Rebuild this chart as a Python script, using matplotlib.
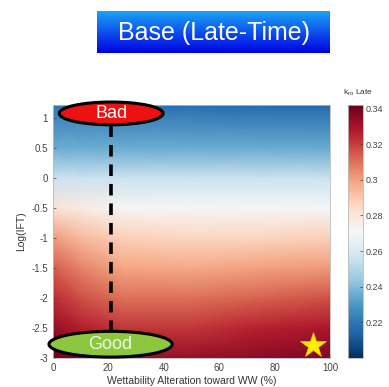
import numpy as np
import matplotlib.pyplot as plt
from matplotlib.patches import Ellipse

plt.rcParams['font.family'] = ['Liberation Sans', 'DejaVu Sans']

# k_ro (late time) over wettability alteration and log(IFT)
w_pct = [0, 10, 25, 50, 75, 100]
log_ift = [1.22, 0.5, 0, -0.5, -1, -1.5, -2, -2.5, -3]
kro_late = [
    [0.219, 0.219, 0.218, 0.217, 0.216, 0.215],
    [0.236, 0.236, 0.236, 0.236, 0.236, 0.235],
    [0.256, 0.256, 0.256, 0.256, 0.256, 0.256],
    [0.281, 0.277, 0.272, 0.270, 0.270, 0.270],
    [0.301, 0.294, 0.288, 0.286, 0.287, 0.288],
    [0.314, 0.306, 0.299, 0.298, 0.300, 0.302],
    [0.324, 0.317, 0.310, 0.310, 0.313, 0.316],
    [0.333, 0.327, 0.322, 0.322, 0.326, 0.329],
    [0.341, 0.337, 0.333, 0.333, 0.335, 0.337],
]
vmin, vmax = 0.2, 0.342
cb_ticks = [0.22, 0.24, 0.26, 0.28, 0.3, 0.32, 0.34]

path_x = 21
bad_pt = (21, 1.08)
good_pt = (20.8, -2.77)
best_pt = (94, -2.78)

fig = plt.figure(figsize=(3.89, 3.87), dpi=100)

# title banner with vertical blue gradient
bax = fig.add_axes([97/389, 1 - 53/387, 233/389, 42/387])
grad = np.linspace(0, 1, 64).reshape(-1, 1)
top = np.array([0.10, 0.64, 0.96])
bot = np.array([0.0, 0.0, 0.90])
rgb = top + (bot - top) * grad[..., None]
bax.imshow(rgb, aspect='auto', extent=[0, 1, 0, 1])
bax.text(0.5, 0.48, 'Base (Late-Time)', color='white', fontsize=18,
         ha='center', va='center')
bax.axis('off')

ax = fig.add_axes([53/389, 29/387, 277/389, 253/387])
X, Y = np.meshgrid(w_pct, log_ift)
mesh = ax.pcolormesh(X, Y, np.array(kro_late), cmap='RdBu_r',
                     vmin=vmin, vmax=vmax, shading='gouraud')
ax.set_xlim(0, 100)
ax.set_ylim(-3, 1.22)
ax.set_xticks([0, 20, 40, 60, 80, 100])
ax.set_yticks([-3, -2.5, -2, -1.5, -1, -0.5, 0, 0.5, 1])
ax.set_yticklabels(['-3', '-2.5', '-2', '-1.5', '-1', '-0.5', '0', '0.5', '1'])
ax.tick_params(direction='in', length=2, width=0.5, labelsize=7,
               colors='#444444', labelcolor='#444444')
for s in ax.spines.values():
    s.set_color('#bbbbbb')
    s.set_linewidth(0.6)
ax.set_xlabel('Wettability Alteration toward WW (%)', fontsize=7.5,
              color='#333333', labelpad=2)
ax.set_ylabel('Log(IFT)', fontsize=7.5, color='#333333', labelpad=4)

# path from bad to good
ax.plot([path_x, path_x], [good_pt[1] + 0.2, bad_pt[1] - 0.18], color='black',
        lw=2.6, dashes=(3.2, 2.2), zorder=3)

bad = Ellipse(bad_pt, 37.5, 0.38, facecolor='#ee1111', edgecolor='black',
              lw=2.2, clip_on=False, zorder=4)
ax.add_patch(bad)
ax.text(bad_pt[0], bad_pt[1], 'Bad', color='white', fontsize=13,
        ha='center', va='center', zorder=5)

good = Ellipse(good_pt, 44.5, 0.43, facecolor='#8dc63f', edgecolor='black',
               lw=2.2, clip_on=False, zorder=4)
ax.add_patch(good)
ax.text(good_pt[0], good_pt[1], 'Good', color='#eef7e6', fontsize=13,
        ha='center', va='center', zorder=5)

ax.plot(*best_pt, marker='*', ms=19, color='#ffee00', mec='#e8c000',
        mew=0.5, clip_on=False, zorder=5)

# colorbar
cax = fig.add_axes([348/389, 29/387, 15/389, 253/387])
cb = fig.colorbar(mesh, cax=cax, ticks=cb_ticks)
cb.ax.set_yticklabels(['0.22', '0.24', '0.26', '0.28', '0.3', '0.32', '0.34'])
cb.ax.tick_params(direction='in', length=2, width=0.5, labelsize=6.5,
                  colors='#444444', labelcolor='#444444', pad=2)
cb.outline.set_edgecolor('#bbbbbb')
cb.outline.set_linewidth(0.6)
fig.text(343/389, 1 - 93/387, r'k$_{\mathregular{ro}}$ Late', fontsize=6,
         color='#333333', va='center')

fig.savefig('out.png', dpi=100)
